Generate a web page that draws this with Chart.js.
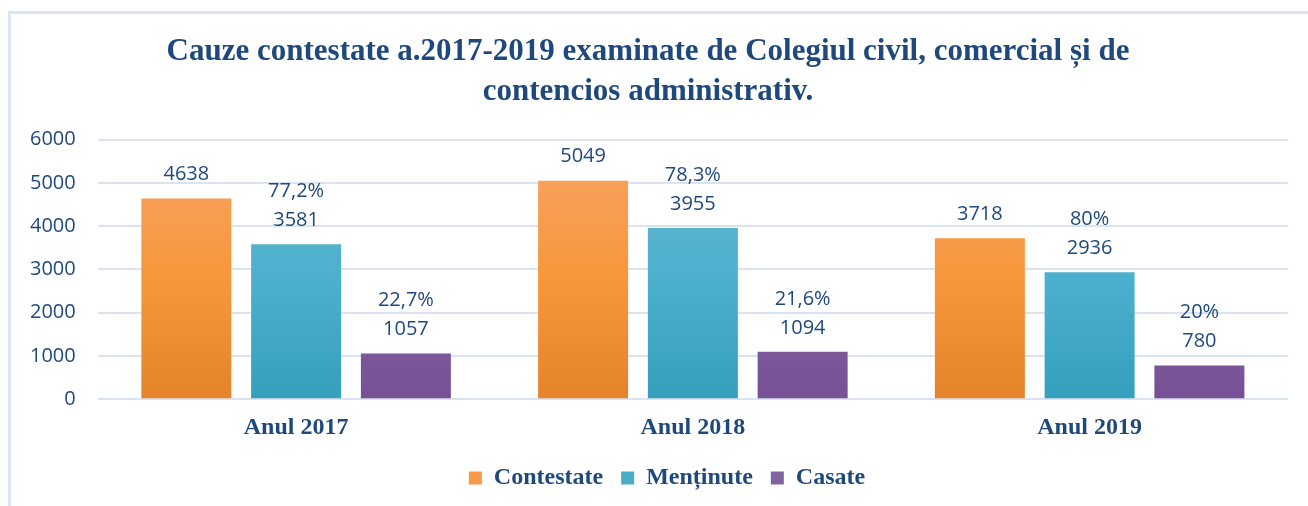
<!DOCTYPE html>
<html>
<head>
<meta charset="utf-8">
<script src="https://cdn.jsdelivr.net/npm/chart.js@4"></script>
<style>
    body { margin: 0; background: #fff; }
    #wrap { position: relative; width: 1308px; height: 506px; overflow: hidden; }
    #frame { position: absolute; left: 8px; top: 11px; width: 1400px; height: 600px;
             border-top: 3px solid #dae5f4; border-left: 3px solid #dae5f4; box-sizing: border-box; }
    #chart { position: absolute; left: 0; top: 0; }
</style>
</head>
<body>
<div id="wrap">
    <div id="frame"></div>
    <canvas id="chart" width="1308" height="506"></canvas>
</div>
<script>
const categories = ["Anul 2017", "Anul 2018", "Anul 2019"];
const contestate = [4638, 5049, 3718];
const mentinute = [3581, 3955, 2936];
const casate = [1057, 1094, 780];
const pctMentinute = ["77,2%", "78,3%", "80%"];
const pctCasate = ["22,7%", "21,6%", "20%"];
const yTicks = [0, 1000, 2000, 3000, 4000, 5000, 6000];

const textColor = "#1f497d";
const gridColor = "#d9e3f3";

function gradient(stops, solid) {
    return function(ctx) {
        const area = ctx.chart.chartArea;
        if (!area) return solid;
        const g = ctx.chart.ctx.createLinearGradient(0, area.top, 0, area.bottom);
        g.addColorStop(0, stops[0]);
        g.addColorStop(0.55, stops[1]);
        g.addColorStop(1, stops[2]);
        return g;
    };
}

// value labels above the bars (percentage on an extra line for two series)
const barLabels = {
    id: "barLabels",
    afterDatasetsDraw(chart) {
        const ctx = chart.ctx;
        ctx.save();
        ctx.font = "20px 'Open Sans'";
        ctx.fillStyle = textColor;
        ctx.textAlign = "center";
        ctx.textBaseline = "middle";
        chart.data.datasets.forEach(function(ds, i) {
            const meta = chart.getDatasetMeta(i);
            meta.data.forEach(function(bar, j) {
                ctx.fillText(String(ds.data[j]), bar.x, bar.y - 24);
                if (ds.pct) ctx.fillText(ds.pct[j], bar.x, bar.y - 53);
            });
        });
        ctx.restore();
    }
};

// the legend sits a little right of the canvas centre in the original
const legendShift = {
    id: "legendShift",
    afterLayout(chart) {
        chart.legend.left += 19;
        chart.legend.right += 19;
    }
};

const legendColors = ["#f89a44", "#4bacc6", "#8064a2"];

new Chart(document.getElementById("chart").getContext("2d"), {
    type: "bar",
    data: {
        labels: categories,
        datasets: [{
            label: "Contestate",
            data: contestate,
            backgroundColor: gradient(["#f9a466", "#f7963a", "#e5832c"], "#f79646")
        }, {
            label: "Menținute",
            data: mentinute,
            pct: pctMentinute,
            backgroundColor: gradient(["#69b6cd", "#4bb0cd", "#34a0bb"], "#4bacc6")
        }, {
            label: "Casate",
            data: casate,
            pct: pctCasate,
            backgroundColor: gradient(["#9479ae", "#8464a3", "#765094"], "#8064a2")
        }]
    },
    options: {
        responsive: false,
        animation: false,
        categoryPercentage: 0.83,
        barPercentage: 0.82,
        layout: { padding: { left: 8, right: 20, top: 0, bottom: 6 } },
        plugins: {
            title: {
                display: true,
                text: ["Cauze contestate a.2017-2019 examinate de Colegiul civil, comercial și de",
                       "contencios administrativ."],
                color: textColor,
                font: { family: "'Liberation Serif'", size: 31, weight: "bold", lineHeight: 1.3 },
                padding: { top: 32, bottom: 27 }
            },
            legend: {
                position: "bottom",
                labels: {
                    color: textColor,
                    font: { family: "'Liberation Serif'", size: 24, weight: "bold" },
                    boxWidth: 13,
                    boxHeight: 13,
                    padding: 18,
                    generateLabels: function(chart) {
                        return chart.data.datasets.map(function(ds, i) {
                            return { text: ds.label, fillStyle: legendColors[i], strokeStyle: legendColors[i],
                                     lineWidth: 0, datasetIndex: i, fontColor: textColor };
                        });
                    }
                }
            },
            tooltip: { enabled: false }
        },
        scales: {
            x: {
                grid: { display: false },
                border: { display: false },
                ticks: {
                    color: textColor,
                    font: { family: "'Liberation Serif'", size: 24, weight: "bold" },
                    padding: 6
                }
            },
            y: {
                min: 0,
                max: 6000,
                afterBuildTicks: function(axis) {
                    axis.ticks = yTicks.map(function(v) { return { value: v }; });
                },
                grid: { color: gridColor, lineWidth: 2, drawTicks: false },
                border: { display: false },
                ticks: {
                    color: textColor,
                    font: { family: "'Open Sans'", size: 20 },
                    padding: 22,
                    callback: function(v) { return String(v); }
                }
            }
        }
    },
    plugins: [barLabels, legendShift]
});
</script>
</body>
</html>
